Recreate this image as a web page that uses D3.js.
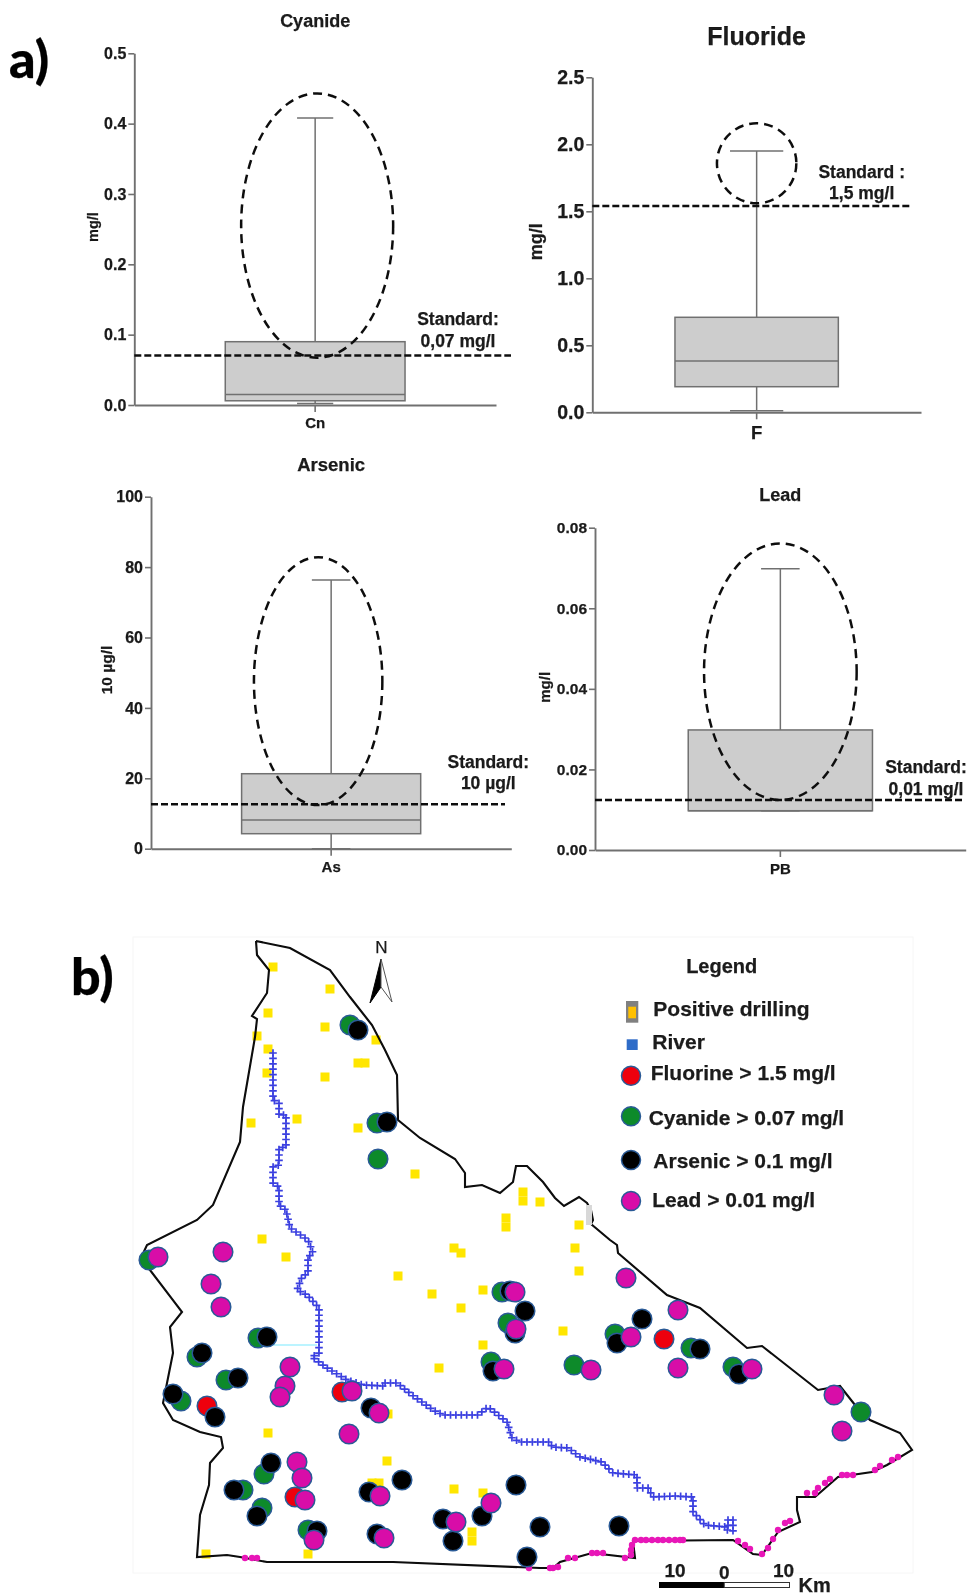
<!DOCTYPE html>
<html>
<head>
<meta charset="utf-8">
<script src="https://cdn.jsdelivr.net/npm/d3@7"></script>
<style>
    html, body { margin: 0; padding: 0; background: #fff; }
    svg { display: block; }
    text { font-family: "Liberation Sans", Arial, sans-serif; font-weight: bold; fill: #1a1a1a; stroke: #1a1a1a; stroke-width: 0.25; }
</style>
</head>
<body>
<svg id="chart" width="972" height="1596"></svg>
<script>
// box plots, values
const panelTitles = ['Cyanide', 'Fluoride', 'Arsenic', 'Lead'];
const panelCategories = ['Cn', 'F', 'As', 'PB'];
const panelUnits = ['mg/l', 'mg/l', '10 \u00b5g/l', 'mg/l'];
const panelMax = [0.5, 2.5, 100, 0.08];
const panelTicks = [
    [0, 0.1, 0.2, 0.3, 0.4, 0.5],
    [0, 0.5, 1, 1.5, 2, 2.5],
    [0, 20, 40, 60, 80, 100],
    [0, 0.02, 0.04, 0.06, 0.08]
];
const tickFormats = ['.1f', '.1f', 'd', '.2f'];
const whiskerHigh = [0.408, 1.95, 76.3, 0.0698];
const whiskerLow = [0.002, 0.012, 0, 0.00975];
const boxHigh = [0.09, 0.709, 21.3, 0.0298];
const boxMedian = [0.015, 0.383, 8.15, 0.00975];
const boxLow = [0.006, 0.191, 4.26, 0.00975];
const standardValue = [0.0705, 1.54, 12.6, 0.0124];
const standardLabels = [
    ['Standard:', '0,07 mg/l'],
    ['Standard :', '1,5 mg/l'],
    ['Standard:', '10 \u00b5g/l'],
    ['Standard:', '0,01 mg/l']
];
const ellipseTop = [0.443, 2.157, 82.8, 0.0761];
const ellipseBottom = [0.0672, 1.56, 12.4, 0.0124];

// map, digitised on a grid where 65 units are 10 km (y runs south)
const boundary = [[126, 21], [160, 28], [200, 50], [220, 77], [242, 105], [255, 130], [267, 155], [268, 200], [290, 218], [325, 239], [335, 253], [335, 267], [352, 265], [370, 273], [383, 262], [386, 246], [397, 246], [413, 262], [425, 278], [434, 286], [449, 277], [457, 283], [461, 290], [463, 300], [461, 304], [480, 320], [487, 325], [488, 333], [537, 375], [570, 388], [617, 428], [632, 426], [688, 470], [710, 466], [725, 485], [740, 500], [770, 513], [782, 530], [757, 545], [742, 552], [708, 557], [685, 577], [667, 577], [667, 590], [670, 602], [648, 612], [632, 635], [623, 634], [603, 620], [503, 621], [505, 638], [462, 633], [430, 642], [423, 648], [410, 648], [263, 642], [137, 642], [110, 637], [97, 635], [67, 637], [70, 595], [79, 565], [80, 543], [93, 528], [91, 517], [70, 512], [43, 500], [33, 483], [43, 433], [40, 407], [52, 392], [20, 350], [10, 340], [17, 325], [67, 300], [83, 285], [110, 222], [113, 187], [125, 117], [127, 99], [122, 96], [137, 73], [139, 50], [127, 35], [126, 21]];
const riverMain = [[143, 133], [143, 180], [149, 183], [149, 195], [156, 195], [156, 227], [149, 228], [149, 245], [143, 247], [143, 263], [149, 267], [149, 285], [156, 290], [160, 308], [178, 320], [183, 333], [178, 337], [178, 353], [172, 357], [167, 370], [177, 375], [189, 388], [189, 433], [182, 437], [197, 448], [217, 460], [233, 465], [253, 466], [253, 463], [267, 463], [282, 475], [303, 490], [313, 495], [348, 495], [358, 487], [377, 502], [382, 518], [390, 522], [420, 522], [422, 527], [438, 528], [450, 537], [472, 542], [483, 553], [507, 555], [507, 568], [518, 568], [523, 577], [545, 576], [563, 577], [563, 592], [575, 605], [597, 607], [598, 615]];
const riverMouthA = [[603, 600], [603, 615]];
const riverMouthB = [[598, 600], [598, 607]];
const drillings = [[143, 47], [200, 69], [138, 93], [195, 107], [127, 116], [246, 120], [138, 129], [228, 143], [235, 143], [137, 153], [195, 157], [121, 203], [167, 199], [228, 208], [285, 254], [393, 272], [393, 281], [410, 282], [376, 298], [376, 307], [449, 305], [445, 328], [132, 319], [156, 337], [324, 328], [331, 333], [449, 351], [433, 411], [268, 356], [302, 374], [331, 388], [353, 370], [353, 425], [309, 448], [138, 513], [257, 541], [324, 569], [353, 573], [242, 563], [249, 563], [342, 612], [342, 621], [76, 634], [178, 634], [258, 494]];
const fluorineSites = [[77, 486], [212, 472], [165, 577], [534, 419]];
const cyanideSites = [[19, 340], [67, 437], [128, 418], [96, 460], [51, 481], [134, 554], [113, 570], [132, 588], [178, 610], [372, 372], [378, 403], [361, 442], [220, 105], [247, 203], [248, 239], [485, 414], [444, 445], [561, 428], [603, 447], [731, 492]];
const arsenicSites = [[72, 433], [137, 417], [108, 458], [43, 474], [85, 497], [241, 488], [141, 543], [104, 570], [127, 596], [187, 611], [239, 572], [272, 560], [247, 614], [313, 599], [323, 621], [352, 596], [386, 565], [410, 607], [397, 637], [395, 391], [385, 413], [363, 451], [380, 371], [228, 110], [257, 202], [512, 399], [487, 423], [570, 429], [609, 454], [489, 606]];
const leadSites = [[28, 337], [93, 332], [81, 364], [91, 387], [160, 447], [155, 466], [150, 477], [222, 471], [249, 493], [219, 514], [167, 542], [172, 558], [175, 580], [184, 620], [250, 576], [254, 618], [326, 602], [361, 583], [385, 372], [386, 409], [374, 449], [496, 358], [548, 390], [501, 417], [461, 450], [548, 448], [622, 449], [704, 475], [712, 511]];
const southDots = [[115, 638], [122, 638], [127, 638], [399, 648], [420, 648], [423, 648], [428, 647], [438, 638], [445, 638], [462, 633], [467, 633], [473, 633], [495, 638], [501, 635], [501, 630], [502, 625], [505, 620], [511, 620], [516, 620], [522, 620], [528, 620], [533, 620], [539, 620], [545, 620], [550, 620], [553, 620], [608, 621], [615, 625], [620, 629], [632, 634], [638, 628], [643, 619], [648, 610], [655, 603], [660, 601], [677, 573], [685, 573], [688, 568], [695, 563], [700, 559], [712, 555], [717, 555], [723, 555], [745, 550], [750, 546], [762, 540], [768, 537]];
const legendNames = ['Fluorine > 1.5 mg/l', 'Cyanide > 0.07 mg/l', 'Arsenic > 0.1 mg/l', 'Lead > 0.01 mg/l'];
const scaleTicks = [-10, 0, 10];

const colors = { fluorine: '#ee0010', cyanide: '#0a8a2c', arsenic: '#000', lead: '#d808a8' };
const siteStroke = '#2a5a96';

const svg = d3.select('#chart');
const defs = svg.append('defs');
defs.append('filter').attr('id', 'soft')
    .attr('filterUnits', 'userSpaceOnUse')
    .attr('x', 0).attr('y', 0).attr('width', 972).attr('height', 1596)
    .append('feGaussianBlur').attr('stdDeviation', 0.45);
const root = svg.append('g').attr('filter', 'url(#soft)');

// pixel frames of the four plots and their text
const frames = [
    { left: 134.3, right: 496, top: 53.3, bottom: 405, capShare: 0.1, ellipseDx: 2, ellipseRx: 76, stdEnd: 511, tickSize: 16,
        titleY: 26.7, titleSize: 18, unitX: 93, unitY: 227, unitSize: 14.5, catY: 427.7, catSize: 15,
        stdX: 458, stdY: [325, 347.3], stdSize: 17.5 },
    { left: 592.3, right: 921, top: 77.3, bottom: 412.3, capShare: 0.162, ellipseDx: 0, ellipseRx: 39.7, stdEnd: 912, tickSize: 19.5,
        titleY: 45, titleSize: 25, unitX: 536, unitY: 241.7, unitSize: 18, catY: 439, catSize: 18.5,
        stdX: 861.7, stdY: [177.7, 199], stdSize: 17.5 },
    { left: 151, right: 511.3, top: 496.7, bottom: 848.7, capShare: 0.107, ellipseDx: -13, ellipseRx: 64.2, stdEnd: 505, tickSize: 16,
        titleY: 470.7, titleSize: 18.5, unitX: 106.7, unitY: 670, unitSize: 15.5, catY: 871.7, catSize: 15,
        stdX: 488.3, stdY: [768.3, 789.3], stdSize: 17.5 },
    { left: 595, right: 965.7, top: 527.7, bottom: 850, capShare: 0.104, ellipseDx: 0, ellipseRx: 76.3, stdEnd: 965, tickSize: 15.5,
        titleY: 500.7, titleSize: 18, unitX: 545, unitY: 687.3, unitSize: 15, catY: 874.3, catSize: 15,
        stdX: 926, stdY: [773.3, 795], stdSize: 17.5 }
];

frames.forEach((f, i) => drawPanel(root.append('g'), f, i));

function drawPanel(g, f, i) {
    const lineColor = '#707070';
    const x = d3.scaleBand().domain([panelCategories[i]]).range([f.left, f.right]);
    const y = d3.scaleLinear().domain([0, panelMax[i]]).range([f.bottom, f.top]);
    const cx = x(panelCategories[i]) + x.bandwidth() / 2;
    const boxWidth = x.bandwidth() * 0.497;
    const capWidth = x.bandwidth() * f.capShare;

    // whisker first, the box sits on top of it
    g.append('line')
        .attr('x1', cx).attr('x2', cx)
        .attr('y1', y(whiskerHigh[i])).attr('y2', y(whiskerLow[i]))
        .attr('stroke', lineColor).attr('stroke-width', 1.5);
    g.selectAll('.cap')
        .data([whiskerHigh[i], whiskerLow[i]])
        .join('line')
        .attr('class', 'cap')
        .attr('x1', cx - capWidth / 2).attr('x2', cx + capWidth / 2)
        .attr('y1', d => y(d)).attr('y2', d => y(d))
        .attr('stroke', lineColor).attr('stroke-width', 1.5);
    g.append('rect')
        .attr('x', cx - boxWidth / 2)
        .attr('y', y(boxHigh[i]))
        .attr('width', boxWidth)
        .attr('height', y(boxLow[i]) - y(boxHigh[i]))
        .attr('fill', '#cdcdcd')
        .attr('stroke', lineColor).attr('stroke-width', 1.5);
    g.append('line')
        .attr('x1', cx - boxWidth / 2).attr('x2', cx + boxWidth / 2)
        .attr('y1', y(boxMedian[i])).attr('y2', y(boxMedian[i]))
        .attr('stroke', lineColor).attr('stroke-width', 1.5);

    const yAxis = d3.axisLeft(y)
        .tickValues(panelTicks[i])
        .tickFormat(d3.format(tickFormats[i]))
        .tickSize(6)
        .tickSizeOuter(0)
        .tickPadding(2);
    const yG = g.append('g').attr('transform', `translate(${f.left},0)`).call(yAxis);
    const xAxis = d3.axisBottom(x).tickSizeInner(7).tickSizeOuter(0).tickFormat('');
    const xG = g.append('g').attr('transform', `translate(0,${f.bottom})`).call(xAxis);
    [yG, xG].forEach(a => {
        a.select('.domain').attr('stroke', lineColor).attr('stroke-width', 1.9);
        a.selectAll('.tick line').attr('stroke', lineColor).attr('stroke-width', 1.6);
    });
    yG.selectAll('.tick text')
        .attr('font-size', f.tickSize)
        .style('font-family', '"Liberation Sans", Arial, sans-serif');

    g.append('ellipse')
        .attr('cx', cx + f.ellipseDx)
        .attr('cy', (y(ellipseTop[i]) + y(ellipseBottom[i])) / 2)
        .attr('rx', f.ellipseRx)
        .attr('ry', (y(ellipseBottom[i]) - y(ellipseTop[i])) / 2)
        .attr('fill', 'none')
        .attr('stroke', '#111').attr('stroke-width', 2.5)
        .attr('stroke-dasharray', '9,6');
    g.append('line')
        .attr('x1', f.left).attr('x2', f.stdEnd)
        .attr('y1', y(standardValue[i])).attr('y2', y(standardValue[i]))
        .attr('stroke', '#111').attr('stroke-width', 2.5)
        .attr('stroke-dasharray', '7,3');

    g.append('text')
        .attr('x', cx).attr('y', f.titleY)
        .attr('text-anchor', 'middle').attr('font-size', f.titleSize)
        .text(panelTitles[i]);
    g.append('text')
        .attr('x', cx).attr('y', f.catY)
        .attr('text-anchor', 'middle').attr('font-size', f.catSize)
        .text(panelCategories[i]);
    g.append('text')
        .attr('transform', `translate(${f.unitX},${f.unitY}) rotate(-90)`)
        .attr('text-anchor', 'middle').attr('dy', '0.35em')
        .attr('font-size', f.unitSize)
        .text(panelUnits[i]);
    g.selectAll('.std')
        .data(standardLabels[i])
        .join('text')
        .attr('class', 'std')
        .attr('x', f.stdX)
        .attr('y', (d, j) => f.stdY[j])
        .attr('text-anchor', 'middle').attr('font-size', f.stdSize)
        .text(d => d);
}

root.append('text').attr('x', 9).attr('y', 78)
    .attr('font-size', 52).style('font-family', 'Lato').style('font-weight', 900).style('fill', '#000').text('a)');
root.append('text').attr('x', 71).attr('y', 995)
    .attr('font-size', 52).style('font-family', 'Lato').style('font-weight', 900).style('fill', '#000').text('b)');

// map
const mapX = d3.scaleLinear().domain([0, 770]).range([130, 900]);
const mapY = d3.scaleLinear().domain([0, 660]).range([920, 1580]);
const mapLine = d3.line().x(d => mapX(d[0])).y(d => mapY(d[1]));
const mapG = root.append('g');

mapG.append('rect')
    .attr('x', 133).attr('y', 937).attr('width', 780).attr('height', 636)
    .attr('fill', '#fff').attr('stroke', '#f6f6f6');

mapG.selectAll('.drill')
    .data(drillings)
    .join('rect')
    .attr('class', 'drill')
    .attr('x', d => mapX(d[0]) - 4.5)
    .attr('y', d => mapY(d[1]) - 4.5)
    .attr('width', 9).attr('height', 9)
    .attr('fill', '#ffe600');

mapG.append('path').datum(boundary)
    .attr('d', mapLine)
    .attr('fill', 'none')
    .attr('stroke', '#0a0a0a').attr('stroke-width', 2.1);

// stray bits of the original figure
mapG.append('rect')
    .attr('x', mapX(456)).attr('y', mapY(285)).attr('width', 6).attr('height', 20)
    .attr('fill', '#d8d8d8');
mapG.append('line')
    .attr('x1', mapX(143)).attr('x2', mapX(187))
    .attr('y1', mapY(425)).attr('y2', mapY(425))
    .attr('stroke', '#a6f0ff').attr('stroke-width', 1.5);

// river is a row of + signs stepped along each polyline
[riverMain, riverMouthA, riverMouthB].forEach(reach => {
    const probe = mapG.append('path').datum(reach).attr('d', mapLine).attr('fill', 'none');
    const node = probe.node();
    const crosses = d3.range(0, node.getTotalLength() + 0.1, 5.4).map(s => node.getPointAtLength(s));
    probe.remove();
    mapG.selectAll(null)
        .data(crosses)
        .join('path')
        .attr('d', 'M-3.8,0H3.8M0,-3.8V3.8')
        .attr('transform', d => `translate(${d.x},${d.y})`)
        .attr('fill', 'none')
        .attr('stroke', '#3a3fe0').attr('stroke-width', 1.7);
});

mapG.selectAll('.south')
    .data(southDots)
    .join('circle')
    .attr('class', 'south')
    .attr('cx', d => mapX(d[0]))
    .attr('cy', d => mapY(d[1]))
    .attr('r', 3.2)
    .attr('fill', '#e818b8');

[[fluorineSites, colors.fluorine], [cyanideSites, colors.cyanide], [arsenicSites, colors.arsenic], [leadSites, colors.lead]].forEach(pair => {
    mapG.selectAll(null)
        .data(pair[0])
        .join('circle')
        .attr('cx', d => mapX(d[0]))
        .attr('cy', d => mapY(d[1]))
        .attr('r', 9.8)
        .attr('fill', pair[1])
        .attr('stroke', siteStroke).attr('stroke-width', 1.5);
});

// north arrow
const north = root.append('g');
north.append('text').attr('x', 381.5).attr('y', 953).attr('text-anchor', 'middle')
    .attr('font-size', 17).style('font-weight', 'normal').text('N');
north.append('path').attr('d', 'M381,959L370,1003L381,987Z').attr('fill', '#000').attr('stroke', '#000');
north.append('path').attr('d', 'M381,959L392,1002L381,987Z').attr('fill', '#fff').attr('stroke', '#555');

// scale bar
const kmX = d3.scaleLinear().domain([-10, 10]).range([659, 789.5]);
root.append('rect').attr('x', kmX(-10)).attr('y', 1582).attr('width', kmX(0) - kmX(-10)).attr('height', 6).attr('fill', '#000');
root.append('rect').attr('x', kmX(0)).attr('y', 1582.5).attr('width', kmX(10) - kmX(0)).attr('height', 5).attr('fill', '#fff').attr('stroke', '#333').attr('stroke-width', 1);
root.selectAll('.km')
    .data(scaleTicks)
    .join('text')
    .attr('class', 'km')
    .attr('x', d => kmX(d) + (d === 0 ? 0 : d < 0 ? 16 : -6))
    .attr('y', d => d === 0 ? 1579 : 1576.5)
    .attr('text-anchor', 'middle')
    .attr('font-size', 19)
    .text(d => Math.abs(d));
root.append('text').attr('x', 798.5).attr('y', 1592).attr('font-size', 20).text('Km');

// legend
const legend = root.append('g');
legend.append('text').attr('x', 721.7).attr('y', 972.5).attr('text-anchor', 'middle').attr('font-size', 20).text('Legend');
legend.append('rect').attr('x', 626).attr('y', 1001).attr('width', 12.3).attr('height', 21.7).attr('fill', '#808080');
legend.append('rect').attr('x', 628.3).attr('y', 1006.7).attr('width', 7.7).attr('height', 11.6).attr('fill', '#ffc000');
legend.append('text').attr('x', 653.3).attr('y', 1015.7).attr('font-size', 21).text('Positive drilling');
legend.append('rect').attr('x', 626.7).attr('y', 1039.3).attr('width', 11).attr('height', 10.7).attr('fill', '#2f6cc8');
legend.append('text').attr('x', 652.3).attr('y', 1049).attr('font-size', 21).text('River');

const legendSwatchY = [1075.7, 1116.3, 1160, 1201];
const legendTextX = [650.7, 648.7, 653.3, 652.3];
const legendTextY = [1080, 1125, 1167.7, 1206.7];
const legendColors = [colors.fluorine, colors.cyanide, colors.arsenic, colors.lead];
legend.selectAll('circle')
    .data(legendNames)
    .join('circle')
    .attr('cx', 631)
    .attr('cy', (d, i) => legendSwatchY[i])
    .attr('r', 9.5)
    .attr('fill', (d, i) => legendColors[i])
    .attr('stroke', siteStroke).attr('stroke-width', 1.5);
legend.selectAll('.item')
    .data(legendNames)
    .join('text')
    .attr('class', 'item')
    .attr('x', (d, i) => legendTextX[i])
    .attr('y', (d, i) => legendTextY[i])
    .attr('font-size', 21)
    .text(d => d);
</script>
</body>
</html>
